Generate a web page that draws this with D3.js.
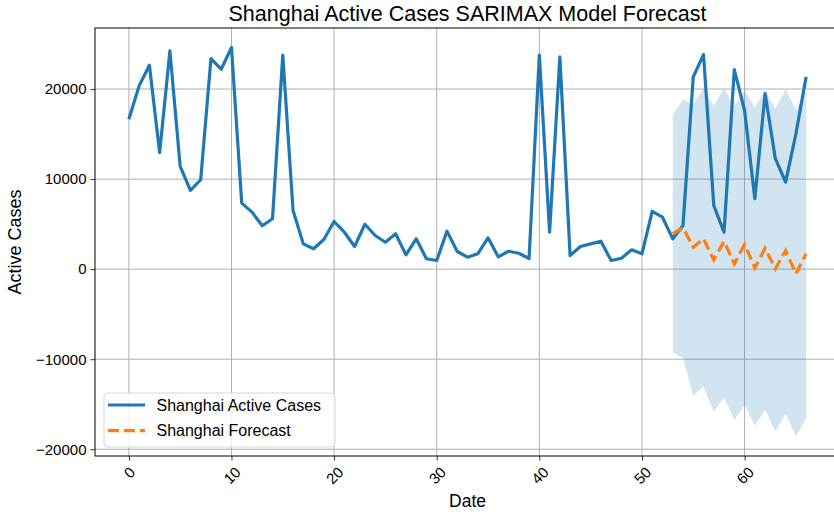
<!DOCTYPE html>
<html>
<head>
<meta charset="utf-8">
<script src="https://cdn.jsdelivr.net/npm/d3@7"></script>
<style>
  body { margin: 0; background: #fff; }
  svg { display: block; font-family: "Liberation Sans", Arial, sans-serif; }
</style>
</head>
<body>
<svg class="chart"></svg>
<script>
// Observed active cases, day index 0..66
var activeCases = [
    16640, 20350, 22650, 12940, 24240, 11410, 8740, 9930, 23390, 22200,
    24620, 7330, 6330, 4820, 5600, 23760, 6520, 2810, 2260, 3290,
    5290, 4100, 2510, 4990, 3740, 2990, 3930, 1590, 3370, 1150,
    960, 4220, 1960, 1330, 1700, 3480, 1370, 1990, 1770, 1180,
    23760, 4100, 23570, 1510, 2510, 2810, 3100, 960, 1210, 2150,
    1700, 6410, 5770, 3370, 4850, 21350, 23830, 7070, 4100, 22170,
    17640, 7820, 19500, 12270, 9670, 15000, 21350
];

// Forecast starts at day 53
var forecastStart = 53;
var forecast = [3930, 4590, 2440, 3370, 1030, 3100, 590, 2740, 140, 2320, 30, 2070, -520, 1700];
var upperCI = [17160, 18830, 18310, 20060, 18200, 20060, 18090, 19870, 17940, 19870, 17830, 19940, 17720, 19700];
var lowerCI = [-9240, -9870, -14060, -13060, -15840, -14250, -16750, -15060, -17400, -15620, -18030, -16100, -18590, -16530];

var xTicks = [0, 10, 20, 30, 40, 50, 60];
var yTicks = [-20000, -10000, 0, 10000, 20000];

var w = 834,
    h = 514;

var svg = d3.select(".chart")
    .attr("width", w)
    .attr("height", h);

// axes box (right edge runs past the picture)
var pLeft = 95, pRight = 840, pTop = 28, pBottom = 456;

var observed = activeCases.map(function(v, i) { return { x: i, y: v }; });
var fc = forecast.map(function(v, i) {
    return { x: forecastStart + i, y: v, lo: lowerCI[i], hi: upperCI[i] };
});

// matplotlib style 5% margins
var xMin = 0, xMax = activeCases.length - 1;
var xPad = (xMax - xMin) * 0.05;
var yMin = d3.min(lowerCI.concat(activeCases)),
    yMax = d3.max(upperCI.concat(activeCases));
var yPad = (yMax - yMin) * 0.05;

var xScale = d3.scaleLinear()
    .domain([xMin - xPad, xMax + xPad])
    .range([pLeft, pRight]);

var yScale = d3.scaleLinear()
    .domain([yMin - yPad, yMax + yPad])
    .range([pBottom, pTop]);

svg.append("defs").append("clipPath")
    .attr("id", "plot-clip")
    .append("rect")
    .attr("x", pLeft)
    .attr("y", pTop)
    .attr("width", pRight - pLeft)
    .attr("height", pBottom - pTop);

// grid
var grid = svg.append("g").attr("class", "grid");
grid.selectAll(".gx")
    .data(xTicks)
    .enter().append("line")
    .attr("x1", function(d) { return xScale(d); })
    .attr("x2", function(d) { return xScale(d); })
    .attr("y1", pTop)
    .attr("y2", pBottom)
    .attr("stroke", "#b0b0b0")
    .attr("stroke-width", 1);
grid.selectAll(".gy")
    .data(yTicks)
    .enter().append("line")
    .attr("x1", pLeft)
    .attr("x2", pRight)
    .attr("y1", function(d) { return yScale(d); })
    .attr("y2", function(d) { return yScale(d); })
    .attr("stroke", "#b0b0b0")
    .attr("stroke-width", 1);

var plot = svg.append("g").attr("clip-path", "url(#plot-clip)");

// confidence band
var area = d3.area()
    .x(function(d) { return xScale(d.x); })
    .y0(function(d) { return yScale(d.lo); })
    .y1(function(d) { return yScale(d.hi); });

plot.append("path")
    .datum(fc)
    .attr("fill", "#1f77b4")
    .attr("fill-opacity", 0.2)
    .attr("d", area);

var line = d3.line()
    .x(function(d) { return xScale(d.x); })
    .y(function(d) { return yScale(d.y); });

plot.append("path")
    .datum(observed)
    .attr("fill", "none")
    .attr("stroke", "#1f77b4")
    .attr("stroke-width", 3.2)
    .attr("stroke-linejoin", "round")
    .attr("d", line);

plot.append("path")
    .datum(fc)
    .attr("fill", "none")
    .attr("stroke", "#ff7f0e")
    .attr("stroke-width", 3.2)
    .attr("stroke-dasharray", "11,5")
    .attr("d", line);

// axes
var yAxis = d3.axisLeft(yScale)
    .tickValues(yTicks)
    .tickSize(4.5)
    .tickPadding(4)
    .tickFormat(d3.format("d"));

var gy = svg.append("g")
    .attr("transform", "translate(" + pLeft + ",0)")
    .call(yAxis);
gy.select(".domain").remove();
gy.selectAll("line").attr("stroke", "#000").attr("stroke-width", 0.8);
gy.selectAll("text")
    .attr("font-size", "15px")
    .attr("font-family", "Liberation Sans, Arial, sans-serif")
    .attr("fill", "#000");

var xAxis = d3.axisBottom(xScale)
    .tickValues(xTicks)
    .tickSize(4.5)
    .tickFormat(d3.format("d"));

var gx = svg.append("g")
    .attr("transform", "translate(0," + pBottom + ")")
    .call(xAxis);
gx.select(".domain").remove();
gx.selectAll("line").attr("stroke", "#000").attr("stroke-width", 0.8);

// rotated 45deg tick labels, centred under the tick
gx.selectAll("text")
    .attr("font-size", "15px")
    .attr("font-family", "Liberation Sans, Arial, sans-serif")
    .attr("fill", "#000")
    .attr("dy", null)
    .attr("text-anchor", "middle")
    .attr("dominant-baseline", "central")
    .each(function() {
        var tw = this.getComputedTextLength();
        var bh = (tw + 11) * Math.SQRT1_2;
        var cy = 4.5 + 5 + bh / 2;
        d3.select(this)
            .attr("y", cy)
            .attr("transform", "rotate(-45,0," + cy + ")");
    });

// spines
svg.append("rect")
    .attr("x", pLeft)
    .attr("y", pTop)
    .attr("width", pRight - pLeft)
    .attr("height", pBottom - pTop)
    .attr("fill", "none")
    .attr("stroke", "#000")
    .attr("stroke-width", 1);

// labels
svg.append("text")
    .attr("x", (pLeft + pRight) / 2)
    .attr("y", 21)
    .attr("text-anchor", "middle")
    .attr("font-size", "21.5px")
    .text("Shanghai Active Cases SARIMAX Model Forecast");

svg.append("text")
    .attr("x", (pLeft + pRight) / 2)
    .attr("y", 507)
    .attr("text-anchor", "middle")
    .attr("font-size", "17.5px")
    .text("Date");

svg.append("text")
    .attr("transform", "translate(21," + ((pTop + pBottom) / 2) + ") rotate(-90)")
    .attr("text-anchor", "middle")
    .attr("font-size", "18px")
    .text("Active Cases");

// legend
var legend = svg.append("g").attr("transform", "translate(104,393)");
legend.append("rect")
    .attr("width", 231)
    .attr("height", 54)
    .attr("rx", 4)
    .attr("fill", "#fff")
    .attr("fill-opacity", 0.8)
    .attr("stroke", "#d6d6d6")
    .attr("stroke-width", 1);

var legendItems = [
    { label: "Shanghai Active Cases", color: "#1f77b4", dash: null },
    { label: "Shanghai Forecast", color: "#ff7f0e", dash: "11,5" }
];

var li = legend.selectAll(".item")
    .data(legendItems)
    .enter().append("g")
    .attr("transform", function(d, i) { return "translate(0," + (12 + i * 25.7) + ")"; });

li.append("line")
    .attr("x1", 4)
    .attr("x2", 41)
    .attr("stroke", function(d) { return d.color; })
    .attr("stroke-width", 3.2)
    .attr("stroke-dasharray", function(d) { return d.dash; });

li.append("text")
    .attr("x", 52.5)
    .attr("dy", "0.35em")
    .attr("font-size", "16px")
    .text(function(d) { return d.label; });
</script>
</body>
</html>
